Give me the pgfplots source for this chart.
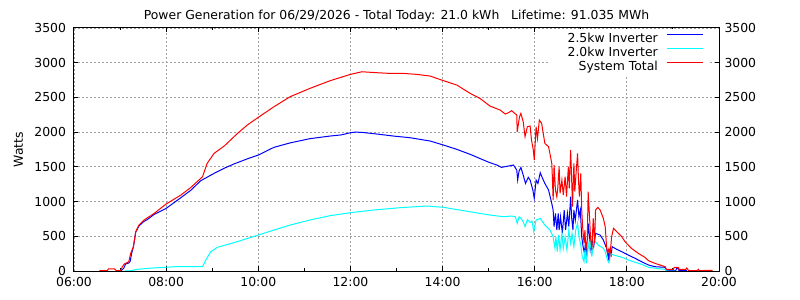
\documentclass[border=0pt]{standalone}
\usepackage{fontspec}
\setmainfont{DejaVu Sans}
\usepackage{pgfplots}
\usepackage{pgfplotstable}
\pgfplotsset{compat=1.18}
\newcommand\lab{\fontsize{12.4bp}{14bp}\selectfont}
\definecolor{gridgray}{RGB}{160,160,160}
\definecolor{invblue}{RGB}{0,0,255}
\definecolor{invcyan}{RGB}{0,255,255}
\definecolor{totred}{RGB}{255,0,0}

% time of day in decimal hours, power in watts
\pgfplotstableread{
h w
7.02 0
7.08 40
7.12 100
7.19 115
7.22 140
7.25 250
7.29 350
7.34 560
7.41 650
7.52 715
7.59 740
7.74 815
8.00 902
8.32 1056
8.53 1160
8.75 1300
9.04 1406
9.26 1480
9.47 1541
9.76 1615
10.00 1670
10.34 1781
10.69 1845
11.12 1906
11.56 1944
11.80 1960
12.00 1992
12.10 2000
12.25 1997
12.57 1973
12.93 1944
13.29 1920
13.73 1872
14.02 1814
14.31 1752
14.60 1680
14.89 1598
15.03 1560
15.18 1526
15.28 1493
15.43 1512
15.54 1526
15.61 1454
15.63 1310
15.66 1440
15.70 1493
15.75 1382
15.80 1262
15.86 1349
15.90 1310
15.96 1166
15.99 1046
16.03 1310
16.07 1260
16.12 1416
16.17 1334
16.22 1262
16.30 1166
16.37 974
16.40 878
16.42 638
16.45 830
16.48 590
16.51 830
16.53 590
16.56 780
16.60 542
16.64 878
16.67 590
16.71 830
16.74 640
16.78 1070
16.80 780
16.83 590
16.85 880
16.88 730
16.93 1022
16.96 780
16.99 880
17.02 494
17.05 350
17.08 254
17.10 400
17.13 206
17.16 686
17.19 494
17.22 302
17.25 446
17.28 350
17.32 542
17.42 518
17.49 446
17.56 326
17.60 182
17.62 300
17.66 230
17.68 350
17.78 312
17.89 278
18.03 230
18.18 182
18.32 134
18.47 86
18.61 62
18.83 53
18.86 5
19.06 5
19.08 34
19.12 34
19.13 5
19.30 5
}\invA

\pgfplotstableread{
h w
7.10 3
7.22 3
7.37 24
7.70 43
8.20 62
8.79 62
8.86 158
8.97 278
9.11 341
9.47 408
10.00 518
10.34 590
10.69 662
11.12 734
11.56 797
12.00 840
12.50 878
13.08 912
13.66 936
14.02 917
14.45 869
14.89 821
15.03 806
15.32 782
15.50 792
15.58 780
15.62 686
15.66 780
15.70 760
15.75 710
15.79 638
15.84 740
15.90 700
15.94 720
15.98 566
16.03 734
16.12 758
16.22 662
16.33 590
16.40 494
16.44 326
16.46 494
16.49 278
16.52 518
16.55 302
16.59 542
16.62 326
16.66 494
16.70 302
16.74 590
16.78 398
16.81 542
16.85 350
16.89 590
16.93 686
16.96 494
17.00 374
17.03 206
17.07 134
17.09 302
17.12 110
17.15 446
17.18 302
17.21 422
17.24 206
17.27 398
17.31 422
17.38 374
17.49 326
17.53 278
17.58 158
17.61 120
17.64 254
17.71 230
17.85 206
17.96 182
18.03 158
18.18 125
18.32 96
18.47 53
18.68 34
18.83 24
18.86 0
19.05 0
}\invB

\pgfplotstableread{
h w
6.55 5
6.72 5
6.75 30
6.88 30
6.92 5
7.01 5
7.05 60
7.09 100
7.19 134
7.23 254
7.29 350
7.34 566
7.41 662
7.52 734
7.74 830
8.00 965
8.32 1094
8.53 1200
8.79 1358
8.89 1550
9.04 1694
9.26 1800
9.55 1982
9.76 2102
10.00 2213
10.34 2366
10.69 2510
11.12 2630
11.56 2741
12.00 2832
12.25 2870
12.57 2856
12.86 2846
13.15 2846
13.44 2832
13.73 2808
14.02 2741
14.31 2678
14.60 2558
14.81 2486
15.03 2376
15.25 2318
15.36 2261
15.43 2280
15.50 2309
15.55 2280
15.61 2246
15.62 2006
15.67 2222
15.70 2270
15.75 2150
15.79 1934
15.84 2078
15.90 2088
15.93 1886
15.97 1742
15.99 1598
16.03 2078
16.06 1910
16.10 2174
16.15 2126
16.22 1838
16.30 1790
16.33 1694
16.37 1550
16.38 1406
16.40 1022
16.42 1526
16.45 1166
16.48 1070
16.50 1190
16.53 1502
16.55 1118
16.59 1310
16.62 1094
16.66 1358
16.69 1070
16.73 1502
16.75 1190
16.78 1742
16.80 1358
16.82 926
16.85 1550
16.87 1142
16.90 1430
16.93 1694
16.95 1310
16.97 1070
17.00 1406
17.02 878
17.04 638
17.07 398
17.09 590
17.11 302
17.14 446
17.16 1142
17.19 782
17.21 494
17.24 302
17.27 758
17.30 398
17.32 878
17.37 917
17.42 878
17.49 758
17.53 638
17.56 350
17.58 254
17.61 320
17.63 206
17.67 494
17.71 614
17.78 566
17.89 494
17.96 422
18.10 326
18.25 254
18.39 197
18.47 149
18.61 110
18.72 86
18.83 62
18.86 24
19.01 24
19.03 53
19.12 53
19.13 24
19.28 24
19.30 43
19.34 5
19.53 5
19.55 24
19.57 5
19.78 10
19.86 10
}\systot

\begin{document}
\begin{tikzpicture}
\path[use as bounding box] (-74bp,-29bp) rectangle (726bp,271bp);
\begin{axis}[
  at={(0,0)}, anchor=south west,
  scale only axis, width=645bp, height=243bp,
  xmin=6, xmax=20, ymin=0, ymax=3500,
  xtick={6,8,...,20},
  xticklabels={06:00,08:00,10:00,12:00,14:00,16:00,18:00,20:00},
  minor xtick={7,9,...,19},
  ytick={0,500,...,3500},
  tick align=inside,
  major tick length=4.5bp, minor tick length=2.5bp,
  xmajorgrids, ymajorgrids,
  major grid style={gridgray, dash pattern=on 2bp off 2bp, line width=0.8bp},
  axis line style={line width=1bp},
  every tick/.style={black, line width=1bp},
  tick label style={font=\lab},
  xticklabel style={yshift=-3bp},
  yticklabel style={xshift=-4.5bp},
  /pgf/number format/assume math mode=true,
  /pgf/number format/1000 sep={},
  title={Power Generation for 06/29/2026 - Total Today: 21.0 kWh\ \ \ Lifetime: 91.035 MWh},
  title style={font=\lab, at={(axis description cs:0.5,1)}, anchor=base, yshift=3bp},
  ylabel={Watts},
  ylabel style={font=\lab, at={(axis description cs:-0.086,0.5)}, anchor=center},
  legend style={at={(axis description cs:1,1)}, anchor=north east,
    xshift=-11bp, yshift=-1bp, draw=none, fill=white, font=\lab,
    inner xsep=4bp, inner ysep=4bp, row sep=2bp, column sep=9bp,
    nodes={inner sep=0pt, text height=9bp, text depth=3bp}},
  legend cell align=right,
  legend plot pos=right,
  legend image code/.code={\draw[#1, line width=1bp] (0bp,4.5bp) -- (36bp,4.5bp);},
  every axis plot/.append style={line width=1bp, mark=none},
]
\addplot[invblue] table[x=h, y=w] {\invA};
\addplot[invcyan] table[x=h, y=w] {\invB};
\addplot[totred] table[x=h, y=w] {\systot};
\legend{\hspace*{16bp}2.5kw Inverter, 2.0kw Inverter, System Total}
\end{axis}
% mirrored scale on the right-hand side
\begin{axis}[
  at={(0,0)}, anchor=south west,
  scale only axis, width=645bp, height=243bp,
  xmin=6, xmax=20, ymin=0, ymax=3500,
  hide x axis, axis y line*=right,
  ytick={0,500,...,3500},
  tick align=inside, major tick length=4.5bp,
  axis line style={line width=1bp},
  every tick/.style={black, line width=1bp},
  yticklabel style={font=\lab, xshift=2bp},
  /pgf/number format/assume math mode=true,
  /pgf/number format/1000 sep={},
]
\end{axis}
\end{tikzpicture}
\end{document}
